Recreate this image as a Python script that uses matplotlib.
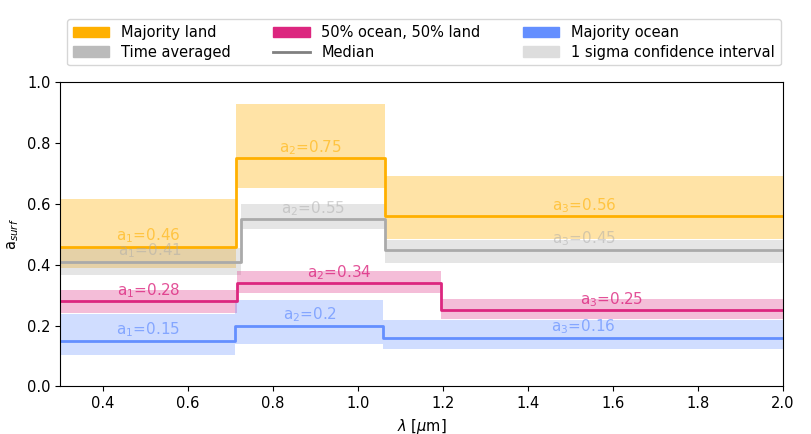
import numpy as np
import matplotlib.pyplot as plt
from matplotlib.patches import Patch
from matplotlib.lines import Line2D

# step edges (micron) and median values / 1 sigma bounds per scenario
land_edges = [0.3, 0.714, 1.064, 2.0]
land_med = [0.46, 0.75, 0.56]
land_lo = [0.39, 0.653, 0.486]
land_hi = [0.618, 0.93, 0.692]

avg_edges = [0.3, 0.725, 1.064, 2.0]
avg_med = [0.41, 0.55, 0.45]
avg_lo = [0.365, 0.516, 0.407]
avg_hi = [0.455, 0.60, 0.483]

half_edges = [0.3, 0.717, 1.195, 2.0]
half_med = [0.28, 0.34, 0.25]
half_lo = [0.241, 0.307, 0.222]
half_hi = [0.318, 0.38, 0.287]

ocean_edges = [0.3, 0.712, 1.06, 2.0]
ocean_med = [0.15, 0.2, 0.16]
ocean_lo = [0.104, 0.14, 0.122]
ocean_hi = [0.237, 0.283, 0.219]

c_land = "#FFB000"
c_half = "#DC267F"
c_ocean = "#648FFF"
c_avg = "#AAAAAA"

fig = plt.figure(figsize=(8.12, 4.34), dpi=100)
ax = fig.add_axes([0.074, 0.11, 0.89, 0.7])


def draw(edges, med, lo, hi, color, band_alpha, text_alpha):
    e = np.array(edges)
    for i in range(len(med)):
        ax.fill_between([e[i], e[i + 1]], lo[i], hi[i], color=color,
                        alpha=band_alpha, linewidth=0)
    ax.step(e, list(med) + [med[-1]], where="post", color=color, lw=2)
    for i in range(len(med)):
        mid = (e[i] + e[i + 1]) / 2
        ax.text(mid, med[i] + 0.004, "a$_{%d}$=%s" % (i + 1, med[i]),
                color=color, alpha=text_alpha, ha="center", va="bottom",
                fontsize=11)


draw(land_edges, land_med, land_lo, land_hi, c_land, 0.35, 0.6)
draw(avg_edges, avg_med, avg_lo, avg_hi, c_avg, 0.3, 0.5)
draw(half_edges, half_med, half_lo, half_hi, c_half, 0.3, 0.8)
draw(ocean_edges, ocean_med, ocean_lo, ocean_hi, c_ocean, 0.3, 0.7)

ax.set_xlim(0.3, 2.0)
ax.set_ylim(0.0, 1.0)
ax.set_xticks(np.arange(0.4, 2.01, 0.2))
ax.set_yticks(np.arange(0.0, 1.01, 0.2))
ax.tick_params(labelsize=10.5)
ax.set_xlabel(r"$\lambda$ [$\mu$m]", fontsize=10.5)
ax.set_ylabel("a$_{surf}$", fontsize=10.5)

handles = [
    Patch(color=c_land, label="Majority land"),
    Patch(color="#BBBBBB", label="Time averaged"),
    Patch(color=c_half, label="50% ocean, 50% land"),
    Line2D([], [], color="#808080", lw=2, label="Median"),
    Patch(color=c_ocean, label="Majority ocean"),
    Patch(color="#DDDDDD", label="1 sigma confidence interval"),
]
fig.legend(handles=handles, ncol=3, loc="upper center",
           bbox_to_anchor=(0.522, 0.972), fontsize=10.5, columnspacing=2.9,
           handlelength=2.5, labelspacing=0.3)

fig.savefig("out.png", dpi=100)
